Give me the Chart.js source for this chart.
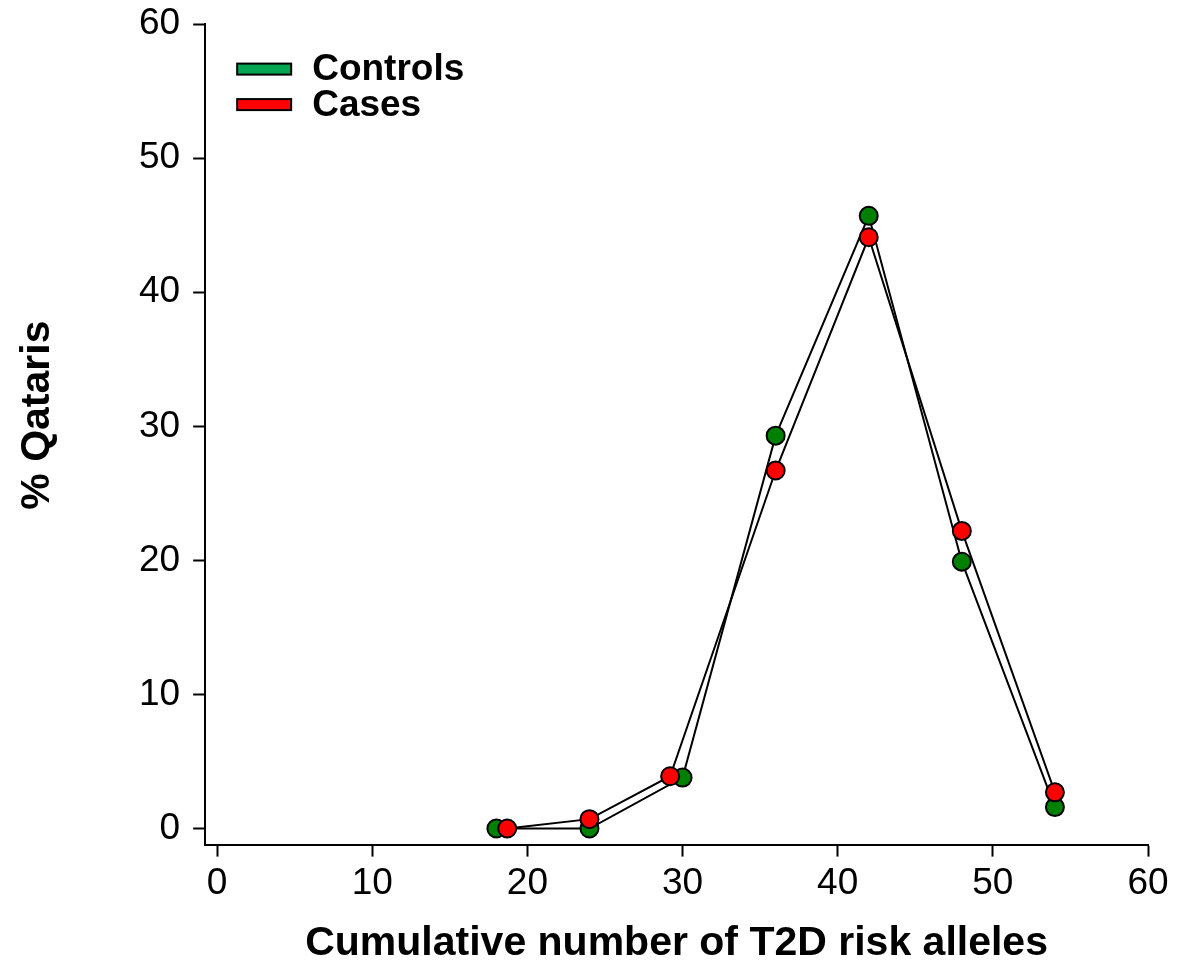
<!DOCTYPE html>
<html>
<head>
<meta charset="utf-8">
<script src="https://cdn.jsdelivr.net/npm/chart.js@4"></script>
<style>
  html, body { margin: 0; padding: 0; background: #fff; }
  #wrap { width: 1186px; height: 964px; }
</style>
</head>
<body>
<div id="wrap"><canvas id="lineChart" width="1186" height="964"></canvas></div>
<script>
// values
const controlsX = [18, 24, 30, 36, 42, 48, 54];
const controlsY = [0, 0, 3.8, 29.3, 45.7, 19.9, 1.6];
const casesX = [18.7, 24, 29.2, 36, 42, 48, 54];
const casesY = [0, 0.7, 3.9, 26.7, 44.1, 22.2, 2.7];
const xTicks = [0, 10, 20, 30, 40, 50, 60];
const yTicks = [0, 10, 20, 30, 40, 50, 60];
const seriesNames = ['Controls', 'Cases'];
const yTitle = '% Qataris';

const FONT = '"Liberation Sans", Arial, sans-serif';

function toPoints(xs, ys) {
    return xs.map(function(x, i) { return { x: x, y: ys[i] }; });
}

// legend inside the plot (top left) + y title sitting a bit above centre
const innerLegend = {
    id: 'innerLegend',
    afterDraw: function(chart) {
        const ctx = chart.ctx;
        const colors = ['#00a651', '#ff0000'];
        const top = chart.chartArea.top;
        const left = chart.chartArea.left;
        ctx.save();
        ctx.font = 'bold 37px ' + FONT;
        ctx.textBaseline = 'middle';
        seriesNames.forEach(function(name, i) {
            const y = top + 45 + i * 35.5;
            ctx.fillStyle = colors[i];
            ctx.fillRect(left + 32, y - 5.5, 54, 11);
            ctx.lineWidth = 2;
            ctx.strokeStyle = '#000';
            ctx.strokeRect(left + 32, y - 5.5, 54, 11);
            ctx.fillStyle = '#000';
            ctx.fillText(name, left + 107, y + 1);
        });

        ctx.font = 'bold 41px ' + FONT;
        ctx.textAlign = 'center';
        ctx.translate(chart.scales.y.left + 38, top + 391);
        ctx.rotate(-Math.PI / 2);
        ctx.fillText(yTitle, 0, 0);
        ctx.restore();
    }
};

document.addEventListener('DOMContentLoaded', function() {
    const ctx = document.getElementById('lineChart').getContext('2d');
    new Chart(ctx, {
        type: 'scatter',
        data: {
            datasets: [{
                label: seriesNames[0],
                data: toPoints(controlsX, controlsY),
                showLine: true,
                borderColor: '#000',
                borderWidth: 2,
                pointRadius: 9,
                pointBorderWidth: 2,
                pointBorderColor: '#000',
                pointBackgroundColor: '#008000',
                order: 2
            }, {
                label: seriesNames[1],
                data: toPoints(casesX, casesY),
                showLine: true,
                borderColor: '#000',
                borderWidth: 2,
                pointRadius: 9,
                pointBorderWidth: 2,
                pointBorderColor: '#000',
                pointBackgroundColor: '#ff0000',
                order: 1
            }]
        },
        options: {
            responsive: false,
            animation: false,
            layout: { padding: { top: 1, right: 38, bottom: 0, left: 0 } },
            plugins: {
                legend: { display: false },
                tooltip: { enabled: false }
            },
            scales: {
                x: {
                    type: 'linear',
                    min: -0.77,
                    max: 60,
                    afterBuildTicks: function(axis) {
                        axis.ticks = xTicks.map(function(v) { return { value: v }; });
                    },
                    grid: { display: true, drawOnChartArea: false, drawTicks: true, tickLength: 12, tickWidth: 2, tickColor: '#000' },
                    border: { display: true, color: '#000', width: 2 },
                    ticks: { color: '#000', padding: 5, maxRotation: 0, font: { family: FONT, size: 37 } },
                    title: {
                        display: true,
                        text: 'Cumulative number of T2D risk alleles',
                        color: '#000',
                        padding: { top: 12, bottom: 0 },
                        font: { family: FONT, size: 41, weight: 'bold', lineHeight: 1 }
                    }
                },
                y: {
                    min: -1.2,
                    max: 60,
                    afterBuildTicks: function(axis) {
                        axis.ticks = yTicks.map(function(v) { return { value: v }; });
                    },
                    grid: { display: true, drawOnChartArea: false, drawTicks: true, tickLength: 12, tickWidth: 2, tickColor: '#000' },
                    border: { display: true, color: '#000', width: 2 },
                    ticks: { color: '#000', padding: 13, font: { family: FONT, size: 37, lineHeight: 0.6 } },
                    title: {
                        // keeps the room; the text itself is drawn by the plugin
                        display: true,
                        text: yTitle,
                        color: 'rgba(0,0,0,0)',
                        padding: { top: 17, bottom: 68 },
                        font: { family: FONT, size: 41, weight: 'bold', lineHeight: 1 }
                    }
                }
            }
        },
        plugins: [innerLegend]
    });
});
</script>
</body>
</html>
